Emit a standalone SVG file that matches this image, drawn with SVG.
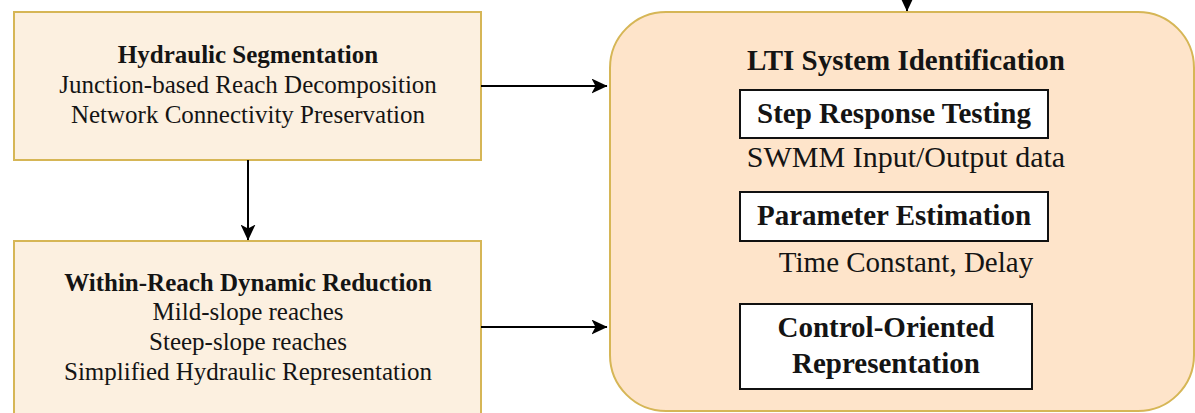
<svg xmlns="http://www.w3.org/2000/svg" width="1195" height="413" viewBox="0 0 1195 413">
<defs>
<marker id="arr" markerWidth="16" markerHeight="15" viewBox="0 0 16 15" refX="15.5" refY="7.5" orient="auto" markerUnits="userSpaceOnUse">
<path d="M0,0 L16,7.5 L0,15 L4,7.5 Z" fill="#000"/>
</marker>
<style>
.lbox{fill:#fcf0e0;stroke:#d6b656;stroke-width:2}
.big{fill:#fee4ca;stroke:#d6b656;stroke-width:2}
.sub{fill:#fff;stroke:#111;stroke-width:2}
.t{font-family:"Liberation Serif","Times New Roman",serif;fill:#141414;text-anchor:middle}
.b{font-weight:bold}
.conn{stroke:#000;stroke-width:2;fill:none}
</style>
</defs>
<rect width="1195" height="413" fill="#fff"/>
<g id="seg">
<rect class="lbox" x="14" y="12" width="467" height="148"/>
<text class="t b" x="248" y="63" font-size="25">Hydraulic Segmentation</text>
<text class="t" x="248" y="93" font-size="25">Junction-based Reach Decomposition</text>
<text class="t" x="248" y="123" font-size="25">Network Connectivity Preservation</text>
</g>
<g id="reduction">
<rect class="lbox" x="14" y="241" width="467" height="190"/>
<text class="t b" x="248" y="291" font-size="25">Within-Reach Dynamic Reduction</text>
<text class="t" x="248" y="320" font-size="25">Mild-slope reaches</text>
<text class="t" x="248" y="350" font-size="25">Steep-slope reaches</text>
<text class="t" x="248" y="380" font-size="25">Simplified Hydraulic Representation</text>
</g>
<g id="lti">
<rect class="big" x="610" y="12" width="584" height="399" rx="56" ry="56"/>
<text class="t b" x="906" y="70" font-size="29">LTI System Identification</text>
</g>
<g id="step">
<rect class="sub" x="740" y="90" width="308" height="48"/>
<text class="t b" x="894" y="123" font-size="29">Step Response Testing</text>
</g>
<g id="swmm">
<text class="t" x="906" y="167" font-size="30">SWMM Input/Output data</text>
</g>
<g id="param">
<rect class="sub" x="740" y="192" width="308" height="49"/>
<text class="t b" x="894" y="225" font-size="29">Parameter Estimation</text>
</g>
<g id="timeconst">
<text class="t" x="906" y="272" font-size="29">Time Constant, Delay</text>
</g>
<g id="control">
<rect class="sub" x="740" y="304" width="292" height="85"/>
<text class="t b" x="886" y="337" font-size="29">Control-Oriented</text>
<text class="t b" x="886" y="373" font-size="29">Representation</text>
</g>
<g id="connectors">
<line class="conn" x1="481" y1="86" x2="607" y2="86" marker-end="url(#arr)"/>
<line class="conn" x1="481" y1="327" x2="607" y2="327" marker-end="url(#arr)"/>
<line class="conn" x1="248" y1="160" x2="248" y2="240" marker-end="url(#arr)"/>
<line class="conn" x1="907" y1="-20" x2="907" y2="11" marker-end="url(#arr)"/>
</g>
</svg>
